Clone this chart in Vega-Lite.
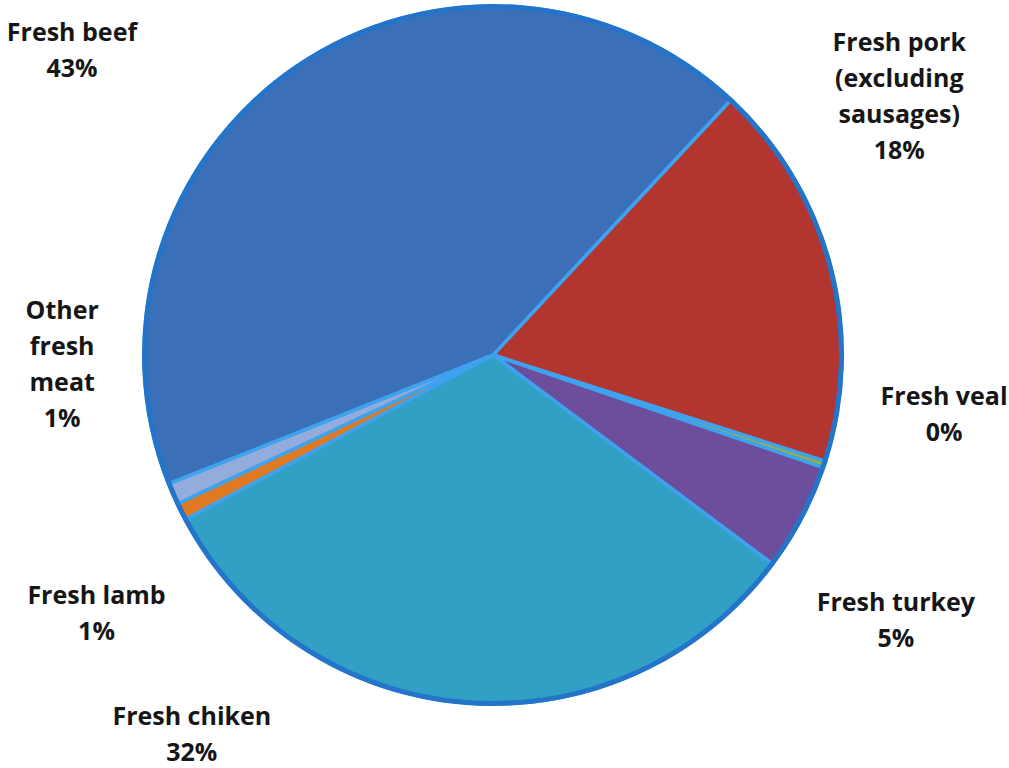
{
  "$schema": "https://vega.github.io/schema/vega-lite/v6.json",
  "width": 986,
  "height": 710,
  "autosize": "none",
  "padding": {"left": 0, "top": 0, "right": 23, "bottom": 58},
  "background": "white",
  "config": {
    "view": {"stroke": null},
    "text": {"font": "Open Sans", "fontWeight": "bold", "fontSize": 25, "lineHeight": 36, "lineBreak": "\n", "color": "#161616", "align": "center", "baseline": "middle"}
  },
  "data": {
    "values": [
      {"rank": 1, "name": "Fresh pork (excluding sausages)", "caption": "Fresh pork\n(excluding\nsausages)", "share": 18},
      {"rank": 2, "name": "Fresh veal", "caption": "Fresh veal", "share": 0.3},
      {"rank": 3, "name": "Fresh turkey", "caption": "Fresh turkey", "share": 5},
      {"rank": 4, "name": "Fresh chiken", "caption": "Fresh chiken", "share": 32},
      {"rank": 5, "name": "Fresh lamb", "caption": "Fresh lamb", "share": 0.8},
      {"rank": 6, "name": "Other fresh meat", "caption": "Other\nfresh\nmeat", "share": 1.0},
      {"rank": 7, "name": "Fresh beef", "caption": "Fresh beef", "share": 43}
    ]
  },
  "transform": [
    {"calculate": "datum.caption + '\\n' + format(datum.share / 100, '.0%')", "as": "label"}
  ],
  "encoding": {
    "theta": {"field": "share", "type": "quantitative", "stack": true, "scale": {"range": [0.7505, 7.0337]}},
    "order": {"field": "rank", "type": "quantitative"},
    "detail": {"field": "name", "type": "nominal"}
  },
  "layer": [
    {
      "mark": {"type": "arc", "outerRadius": 349, "stroke": "#3FA2EE", "strokeWidth": 3.5},
      "encoding": {
        "color": {
          "field": "name", "type": "nominal", "legend": null,
          "scale": {
            "domain": ["Fresh beef", "Fresh pork (excluding sausages)", "Fresh veal", "Fresh turkey", "Fresh chiken", "Fresh lamb", "Other fresh meat"],
            "range": ["#3B6FB8", "#B2352F", "#8FB04A", "#6C4E9C", "#31A0C4", "#E07A22", "#93ACDC"]
          }
        }
      }
    },
    {
      "mark": {"type": "arc", "innerRadius": 346, "outerRadius": 351, "fill": "#2474CA", "strokeWidth": 0}
    },
    {
      "mark": {"type": "text", "radius": 530, "thetaOffset": -0.319},
      "encoding": {"text": {"condition": {"test": "datum.name === 'Fresh beef'", "field": "label", "type": "nominal"}, "value": ""}}
    },
    {
      "mark": {"type": "text", "radius": 512, "thetaOffset": -0.399},
      "encoding": {"text": {"condition": {"test": "datum.name === 'Fresh pork (excluding sausages)'", "field": "label", "type": "nominal"}, "value": ""}}
    },
    {
      "mark": {"type": "text", "radius": 453, "thetaOffset": -0.2265},
      "encoding": {"text": {"condition": {"test": "datum.name === 'Fresh veal'", "field": "label", "type": "nominal"}, "value": ""}}
    },
    {
      "mark": {"type": "text", "radius": 473, "thetaOffset": 0.066},
      "encoding": {"text": {"condition": {"test": "datum.name === 'Fresh turkey'", "field": "label", "type": "nominal"}, "value": ""}}
    },
    {
      "mark": {"type": "text", "radius": 471, "thetaOffset": 0.618},
      "encoding": {"text": {"condition": {"test": "datum.name === 'Fresh chiken'", "field": "label", "type": "nominal"}, "value": ""}}
    },
    {
      "mark": {"type": "text", "radius": 464, "thetaOffset": -0.0806},
      "encoding": {"text": {"condition": {"test": "datum.name === 'Fresh lamb'", "field": "label", "type": "nominal"}, "value": ""}}
    },
    {
      "mark": {"type": "text", "radius": 433, "thetaOffset": 0.51},
      "encoding": {"text": {"condition": {"test": "datum.name === 'Other fresh meat'", "field": "label", "type": "nominal"}, "value": ""}}
    }
  ]
}
